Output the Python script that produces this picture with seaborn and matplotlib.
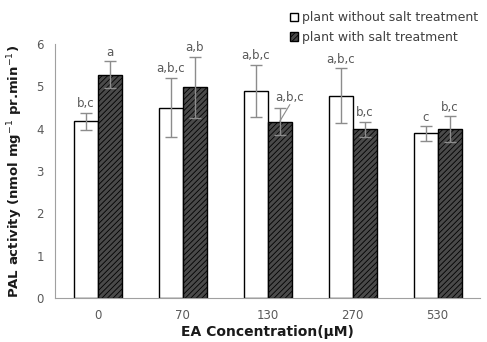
import numpy as np
import pandas as pd
import matplotlib
matplotlib.use('Agg')
import matplotlib.pyplot as plt
import seaborn as sns
from matplotlib.patches import Patch

# data
concentrations = ['0', '70', '130', '270', '530']
without_salt = [4.18, 4.50, 4.89, 4.78, 3.89]
without_err = [0.20, 0.70, 0.62, 0.65, 0.17]
with_salt = [5.28, 4.98, 4.17, 3.99, 3.99]
with_err = [0.31, 0.72, 0.33, 0.18, 0.30]
labels_without = ['b,c', 'a,b,c', 'a,b,c', 'a,b,c', 'c']
labels_with = ['a', 'a,b', 'a,b,c', 'b,c', 'b,c']
series = ['plant without salt treatment', 'plant with salt treatment']

df = pd.DataFrame({
    'conc': concentrations * 2,
    'value': without_salt + with_salt,
    'group': [series[0]] * 5 + [series[1]] * 5,
})

sns.set_style('white')
plt.rcParams['font.family'] = ['DejaVu Sans']
plt.rcParams['hatch.color'] = '#9a9a9a'
plt.rcParams['hatch.linewidth'] = 0.6

fig = plt.figure(figsize=(4.87, 3.42), dpi=100)
ax = fig.add_axes([0.113, 0.129, 0.873, 0.742])

sns.barplot(data=df, x='conc', y='value', hue='group', order=concentrations,
            hue_order=series, palette=['white', '#4a4a4a'], width=0.565,
            errorbar=None, edgecolor='black', linewidth=1.0, ax=ax, legend=False)

gray = '#8c8c8c'
txt = '#595959'
n = len(concentrations)
bars = ax.patches[:2 * n]
for i, p in enumerate(bars):
    if i >= n:
        p.set_hatch('//////')
    x = p.get_x() + p.get_width() / 2
    h = p.get_height()
    err = without_err[i] if i < n else with_err[i - n]
    lab = labels_without[i] if i < n else labels_with[i - n]
    ax.errorbar(x, h, yerr=err, fmt='none', ecolor=gray, elinewidth=1.0,
                capsize=4, capthick=1.0, zorder=3)
    if i == n + 2:
        # label set off to the right with a leader line
        ax.plot([x, x + 0.12], [h, h + 0.4], color=gray, lw=0.8)
        ax.text(x + 0.12, h + 0.42, lab, ha='center', va='bottom',
                fontsize=8.5, color=txt)
    else:
        ax.text(x, h + err + 0.06, lab, ha='center', va='bottom',
                fontsize=8.5, color=txt)

ax.set_ylim(0, 6)
ax.set_yticks(range(7))
ax.set_xlim(-0.5, n - 0.5)
for s in ['top', 'right']:
    ax.spines[s].set_visible(False)
for s in ['left', 'bottom']:
    ax.spines[s].set_color('#a0a0a0')
ax.tick_params(axis='both', colors=txt, labelsize=8.5, length=0, pad=8)
ax.set_xlabel('EA Concentration(μM)', fontsize=10, fontweight='bold',
              color='#1a1a1a', labelpad=2)
ax.set_ylabel('PAL activity (nmol mg$^{-1}$ pr.min$^{-1}$)', fontsize=9.5,
              fontweight='bold', color='#1a1a1a', labelpad=8)

handles = [Patch(facecolor='white', edgecolor='black', label=series[0]),
           Patch(facecolor='#4a4a4a', edgecolor='black', hatch='//////', label=series[1])]
fig.legend(handles=handles, loc='upper right', bbox_to_anchor=(1.005, 1.0),
           frameon=False, fontsize=9, handlelength=0.7, handleheight=0.7,
           handletextpad=0.3, labelspacing=0.5, labelcolor='#404040')

fig.savefig('out.png', dpi=100)
